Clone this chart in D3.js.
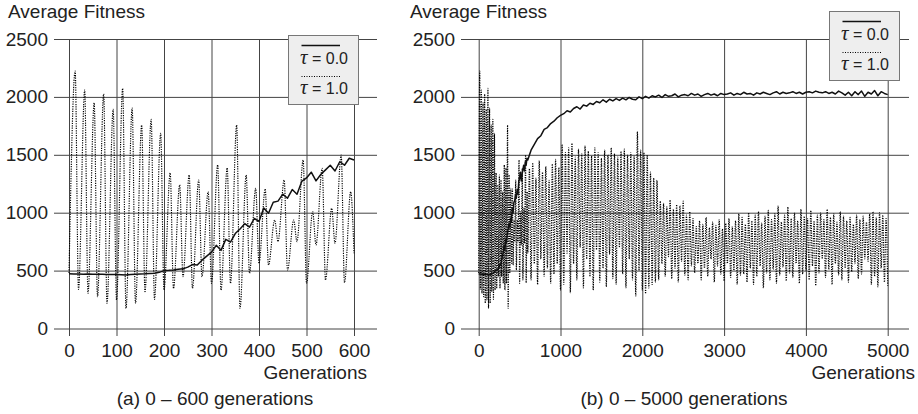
<!DOCTYPE html>
<html>
<head>
<meta charset="utf-8">
<script src="https://cdn.jsdelivr.net/npm/d3@7"></script>
<style>
  body { margin: 0; background: #fff; }
  svg { font-family: "Liberation Sans", Arial, Helvetica, sans-serif; }
  .grid line { stroke: #444; stroke-width: 1; }
  .grid path { display: none; }
  .grid text { font-size: 19px; fill: #222; }
  .label { font-size: 19px; fill: #222; }
  .tau0 { fill: none; stroke: #111; stroke-width: 1.5; stroke-linejoin: round; }
  .tau1 { fill: none; stroke: #000; stroke-width: 1.15; stroke-dasharray: 1.2 1.2; }
  .legend rect { fill: #eeeeee; stroke: #777; stroke-width: 1; }
  .legend text { font-size: 16px; fill: #222; }
  .legend .sym { font-family: "Liberation Serif", "DejaVu Serif", serif; font-style: italic; font-size: 21px; }
</style>
</head>
<body>
<svg width="918" height="414"></svg>
<script>
/* values */

let fitnessTicks = [0, 500, 1000, 1500, 2000, 2500];
let earlyTicks = [0, 100, 200, 300, 400, 500, 600];
let lateTicks = [0, 1000, 2000, 3000, 4000, 5000];

// tau = 0.0, generations 0..600, one value every 10 generations
let tau0Early = [
  472, 470, 470, 469, 470, 469, 468, 468, 467, 467,
  467, 465, 462, 466, 468, 470, 472, 475, 478, 485,
  500, 502, 505, 512, 515, 530, 552, 548, 590, 625,
  660, 718, 675, 770, 745, 820, 860, 905, 875, 950,
  925, 1040, 995, 1090, 1100, 1160, 1125, 1200, 1160, 1270,
  1300, 1350, 1275, 1330, 1370, 1410, 1360, 1440, 1410, 1470,
  1455
];

// tau = 1.0, generations 0..600: first value, then peak and trough of each 20 generation cycle
let tau1Start = 480;
let tau1Peaks = [
  2224, 2060, 1950, 2025, 1893, 2074, 1904, 1757, 1806, 1686,
  1343, 1240, 1325, 1282, 1181, 1412, 1386, 1757, 1325, 1210,
  1205, 937, 1282, 937, 1455, 1009, 1383, 1038, 1498, 1181
];
let tau1Lows = [
  338, 304, 275, 218, 246, 174, 218, 318, 252, 332,
  347, 447, 347, 447, 390, 332, 390, 174, 477, 563,
  548, 750, 505, 750, 390, 721, 419, 736, 395, 650
];

// tau = 0.0, generations 640..5000, one value every 40 generations
let tau0Late = [
  1540, 1590, 1640, 1665, 1720, 1735, 1770, 1790, 1820, 1840,
  1855, 1880, 1870, 1900, 1915, 1895, 1930, 1920, 1945, 1935,
  1960, 1950, 1975, 1955, 1980, 1965, 1985, 1970, 1990, 1975,
  1995, 1980, 1975, 2000, 1985,
  2005, 1990, 2010, 2000, 2015, 1995, 2020, 2005, 2010, 2025,
  2000, 2015, 2020, 2010, 2030, 2015, 2025, 2005, 2020, 2030,
  2015, 2025, 2010, 2030, 2020,
  2025, 2035, 2015, 2030, 2020, 2040, 2025, 2030, 2015, 2035,
  2025, 2040, 2030, 2020, 2035, 2045, 2025, 2040, 2030, 2035,
  2045, 2030, 2040, 2025, 2040,
  2045, 2035, 2050, 2040, 2035, 2045, 2030, 2040, 2025, 2050,
  2035, 2015, 2040, 2010, 2045, 2020, 2050, 2005, 2040, 2025,
  2055, 2010, 2045, 2030, 2020
];

// tau = 1.0, generations 600..5000: high and low of each 40 generation cycle
let tau1LateHi = [
  1380, 1430, 1300, 1450, 1350, 1400, 1280, 1420, 1460, 1390,
  1590, 1520, 1560, 1600, 1480, 1550, 1510, 1580, 1530, 1490,
  1560, 1520, 1470, 1540, 1500, 1560, 1510, 1480, 1530, 1550,
  1500, 1520, 1490, 1700, 1540,
  1520, 1500, 1350, 1300, 1280,
  1100, 1080, 1050, 1110, 1030, 1070, 1060, 1100, 980, 1010,
  950, 880, 930, 900, 960, 870, 920, 890, 940, 860, 910, 950, 880, 930, 990,
  960, 900, 1000, 930, 980, 1010, 910, 970, 1020, 940,
  990, 1060, 920, 980, 1050, 950, 1000, 930, 1030, 970,
  950, 1020, 930, 980, 1000, 940, 1030, 960, 990, 920,
  1010, 970, 930, 960, 900, 980, 940, 970, 920, 990,
  1010, 960, 1000, 980, 950
];
let tau1LateLo = [
  420, 560, 380, 600, 450, 520, 390, 470, 560, 330,
  380, 650, 310, 560, 420, 700, 350, 600, 450, 330,
  680, 400, 520, 360, 640, 430, 380, 700, 470, 350,
  600, 420, 280, 500, 330,
  300, 350, 380, 400, 420,
  560, 450, 620, 430, 520, 400, 580, 460, 420, 540,
  480, 560, 420, 520, 450, 600, 400, 540, 470, 410, 560, 440, 500, 380, 460,
  470, 400, 520, 380, 450, 540, 350, 480, 420, 510,
  390, 460, 530, 410, 480, 440, 560, 390, 470, 500,
  420, 540, 370, 480, 600, 440, 510, 380, 560, 460,
  420, 520, 400, 490, 560, 430, 470, 600, 580, 380,
  450, 360, 520, 400, 370
];

/* turn the arrays into [generation, fitness] points */

let tau0EarlyPts = tau0Early.map((v, i) => [i * 10, v]);

let tau1EarlyPts = [[0, tau1Start]];
tau1Peaks.forEach(function(p, i) {
  tau1EarlyPts.push([20 * i + 13, p]);
  tau1EarlyPts.push([20 * i + 20, tau1Lows[i]]);
});

let tau0AllPts = tau0EarlyPts.concat(tau0Late.map((v, i) => [640 + 40 * i, v]));

let tau1AllPts = tau1EarlyPts.slice();
tau1LateHi.forEach(function(h, i) {
  tau1AllPts.push([600 + 40 * i + 20, h]);
  tau1AllPts.push([600 + 40 * i + 40, tau1LateLo[i]]);
});

let svg = d3.select("svg");

let y = d3.scaleLinear().domain([0, 2500]).range([328.5, 39]);

let drawPanel = function(p) {
  let x = d3.scaleLinear().domain(p.domain).range(p.range);
  let g = svg.append("g");

  // horizontal grid lines reach past the plot on both sides
  let yAxis = d3.axisLeft(y)
    .tickValues(fitnessTicks)
    .tickSize(-(p.gridRight - p.gridLeft))
    .tickPadding(6)
    .tickFormat(d3.format("d"));
  g.append("g").attr("class", "grid")
    .attr("transform", "translate(" + p.gridLeft + ",0)")
    .call(yAxis);

  // vertical grid lines from the top line to a little below zero
  let bottom = 336;
  let xAxis = d3.axisBottom(x)
    .tickValues(p.ticks)
    .tickSize(-(bottom - y(2500)))
    .tickPadding(8)
    .tickFormat(d3.format("d"));
  g.append("g").attr("class", "grid")
    .attr("transform", "translate(0," + bottom + ")")
    .call(xAxis);

  let line = d3.line().x(d => x(d[0])).y(d => y(d[1]));

  // rounded tops for the oscillating run
  let wave = d3.line().curve(d3.curveMonotoneX).x(d => x(d[0])).y(d => y(d[1]));

  g.append("path").attr("class", "tau1").attr("d", wave(p.tau1));
  g.append("path").attr("class", "tau0").attr("d", line(p.tau0));

  g.append("text").attr("class", "label")
    .attr("x", p.titleX).attr("y", 18)
    .text("Average Fitness");
  g.append("text").attr("class", "label")
    .attr("x", p.genX).attr("y", 379)
    .attr("text-anchor", "end")
    .text("Generations");
  g.append("text").attr("class", "label")
    .attr("x", p.captionX).attr("y", 405)
    .attr("text-anchor", "middle")
    .text(p.caption);

  // legend box
  let lg = g.append("g").attr("class", "legend")
    .attr("transform", "translate(" + p.legend[0] + "," + p.legend[1] + ")");
  lg.append("rect").attr("x", 0.5).attr("y", 0.5).attr("width", 70).attr("height", 69);
  lg.append("line").attr("x1", 13.5).attr("x2", 52).attr("y1", 10.5).attr("y2", 10.5)
    .attr("stroke", "#111").attr("stroke-width", 1.3);
  lg.append("line").attr("x1", 13.5).attr("x2", 52).attr("y1", 41.5).attr("y2", 41.5)
    .attr("stroke", "#000").attr("stroke-width", 1.2).attr("stroke-dasharray", "1 1.5");
  ["0.0", "1.0"].forEach(function(v, i) {
    let t = lg.append("text").attr("x", 12).attr("y", 28.5 + 30 * i);
    t.append("tspan").attr("class", "sym").text("τ");
    t.append("tspan").text(" = " + v);
  });
};

drawPanel({
  domain: [0, 600], range: [69, 354], ticks: earlyTicks,
  gridLeft: 54, gridRight: 377,
  tau0: tau0EarlyPts, tau1: tau1EarlyPts,
  titleX: 8, genX: 367, captionX: 215,
  caption: "(a) 0 \u2013 600 generations",
  legend: [288, 35]
});

drawPanel({
  domain: [0, 5000], range: [478.7, 887.7], ticks: lateTicks,
  gridLeft: 461, gridRight: 909,
  tau0: tau0AllPts, tau1: tau1AllPts,
  titleX: 410, genX: 915, captionX: 684,
  caption: "(b) 0 \u2013 5000 generations",
  legend: [829, 11]
});
</script>
</body>
</html>
